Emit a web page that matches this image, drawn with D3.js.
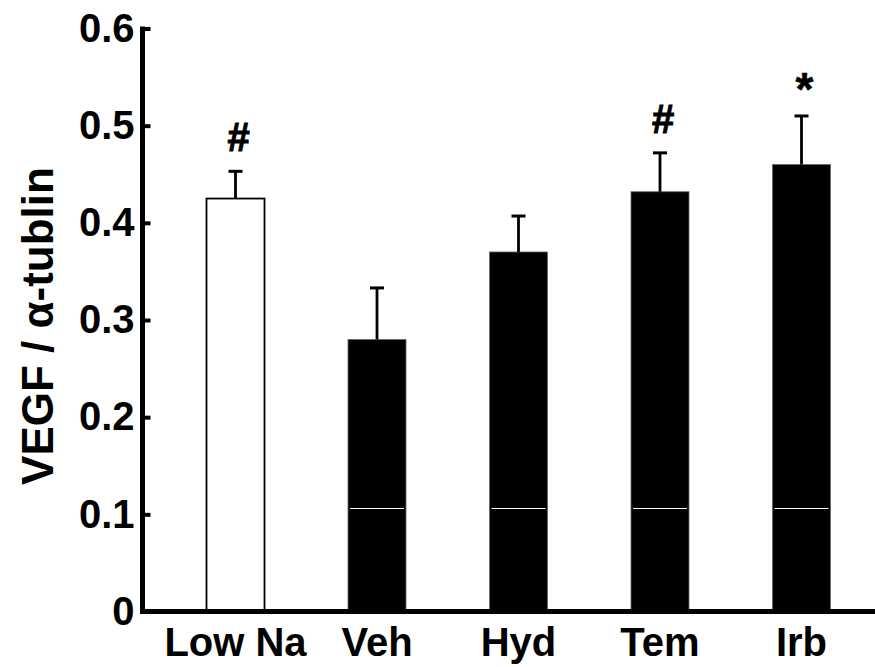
<!DOCTYPE html>
<html>
<head>
<meta charset="utf-8">
<script src="https://cdn.jsdelivr.net/npm/d3@7"></script>
<style>
  body { margin: 0; background: #fff; }
  svg text { font-family: "Liberation Sans", Arial, sans-serif; font-weight: bold; }
</style>
</head>
<body>
<div id="chart"></div>
<script>
// values
var groups = ['Low Na', 'Veh', 'Hyd', 'Tem', 'Irb'];
var means = [0.425, 0.280, 0.370, 0.432, 0.460];
var sems = [0.028, 0.053, 0.037, 0.040, 0.050];
var marks = ['#', '', '', '#', '*'];
var fills = ['white', 'black', 'black', 'black', 'black'];
var yTicks = [0, 0.1, 0.2, 0.3, 0.4, 0.5, 0.6];
var yTickLabels = ['0', '0.1', '0.2', '0.3', '0.4', '0.5', '0.6'];

var width = 875,
    height = 667,
    axisX = 142.5,
    baseY = 611.5,
    barW = 58,
    capW = 14;

var svg = d3.select('#chart')
    .append('svg')
    .attr('width', width)
    .attr('height', height);

var y = d3.scaleLinear().domain([0, 0.6]).range([baseY, 28.5]);

var x = d3.scalePoint()
    .domain(groups)
    .range([235.5, 801.5]);

// bars
var bars = svg.selectAll('.bar')
    .data(groups)
    .enter().append('g')
    .attr('class', 'bar');

bars.append('rect')
    .attr('x', function (d) { return x(d) - barW / 2; })
    .attr('width', barW)
    .attr('y', function (d, i) { return y(means[i]); })
    .attr('height', function (d, i) { return baseY - y(means[i]); })
    .attr('fill', function (d, i) { return fills[i]; })
    .attr('stroke', function (d, i) { return i === 0 ? 'black' : '#666'; })
    .attr('stroke-width', function (d, i) { return i === 0 ? 1.8 : 0.8; });

// thin white break line inside the black bars
bars.filter(function (d, i) { return fills[i] === 'black'; })
    .append('line')
    .attr('x1', function (d) { return x(d) - barW / 2 + 2; })
    .attr('x2', function (d) { return x(d) + barW / 2 - 2; })
    .attr('y1', y(0.106))
    .attr('y2', y(0.106))
    .attr('stroke', 'white')
    .attr('stroke-width', 1);

// error bars (upper only)
bars.append('line')
    .attr('x1', function (d) { return x(d); })
    .attr('x2', function (d) { return x(d); })
    .attr('y1', function (d, i) { return y(means[i]); })
    .attr('y2', function (d, i) { return y(means[i] + sems[i]); })
    .attr('stroke', 'black')
    .attr('stroke-width', 2.8);

bars.append('line')
    .attr('x1', function (d) { return x(d) - capW / 2; })
    .attr('x2', function (d) { return x(d) + capW / 2; })
    .attr('y1', function (d, i) { return y(means[i] + sems[i]); })
    .attr('y2', function (d, i) { return y(means[i] + sems[i]); })
    .attr('stroke', 'black')
    .attr('stroke-width', 3);

// significance marks
bars.append('text')
    .attr('x', function (d) { return x(d) + 3; })
    .attr('y', function (d, i) { return y(means[i] + sems[i]) - (marks[i] === '*' ? 11 : 20); })
    .attr('text-anchor', 'middle')
    .attr('font-size', function (d, i) { return marks[i] === '*' ? 46 : 40; })
    .attr('stroke', 'black')
    .attr('stroke-width', function (d, i) { return marks[i] === '#' ? 1 : 0.5; })
    .text(function (d, i) { return marks[i]; });

// y axis
var yAxis = d3.axisLeft(y)
    .tickValues(yTicks)
    .tickFormat(function (d, i) { return yTickLabels[i]; })
    .tickSizeInner(-8)
    .tickSizeOuter(0)
    .tickPadding(8);

var gy = svg.append('g')
    .attr('transform', 'translate(' + axisX + ',0)')
    .call(yAxis);
gy.select('.domain').remove();
gy.selectAll('.tick line').attr('stroke', 'black').attr('stroke-width', 4);
gy.selectAll('.tick text')
    .attr('font-size', 40)
    .attr('font-family', '"Liberation Sans", Arial, sans-serif')
    .attr('font-weight', 'bold')
    .attr('fill', 'black');

svg.append('line')
    .attr('x1', axisX).attr('x2', axisX)
    .attr('y1', y(0.6) - 2).attr('y2', baseY + 2.5)
    .attr('stroke', 'black')
    .attr('stroke-width', 5);

// baseline
svg.append('line')
    .attr('x1', axisX - 2.5).attr('x2', width)
    .attr('y1', baseY).attr('y2', baseY)
    .attr('stroke', 'black')
    .attr('stroke-width', 5);

// category labels
svg.selectAll('.xlab')
    .data(groups)
    .enter().append('text')
    .attr('class', 'xlab')
    .attr('x', function (d) { return x(d); })
    .attr('y', 656)
    .attr('text-anchor', 'middle')
    .attr('font-size', 40)
    .text(function (d) { return d; });

// y title
svg.append('text')
    .attr('transform', 'translate(53,326) rotate(-90)')
    .attr('text-anchor', 'middle')
    .attr('font-size', 44)
    .text('VEGF / \u03b1-tublin');
</script>
</body>
</html>
